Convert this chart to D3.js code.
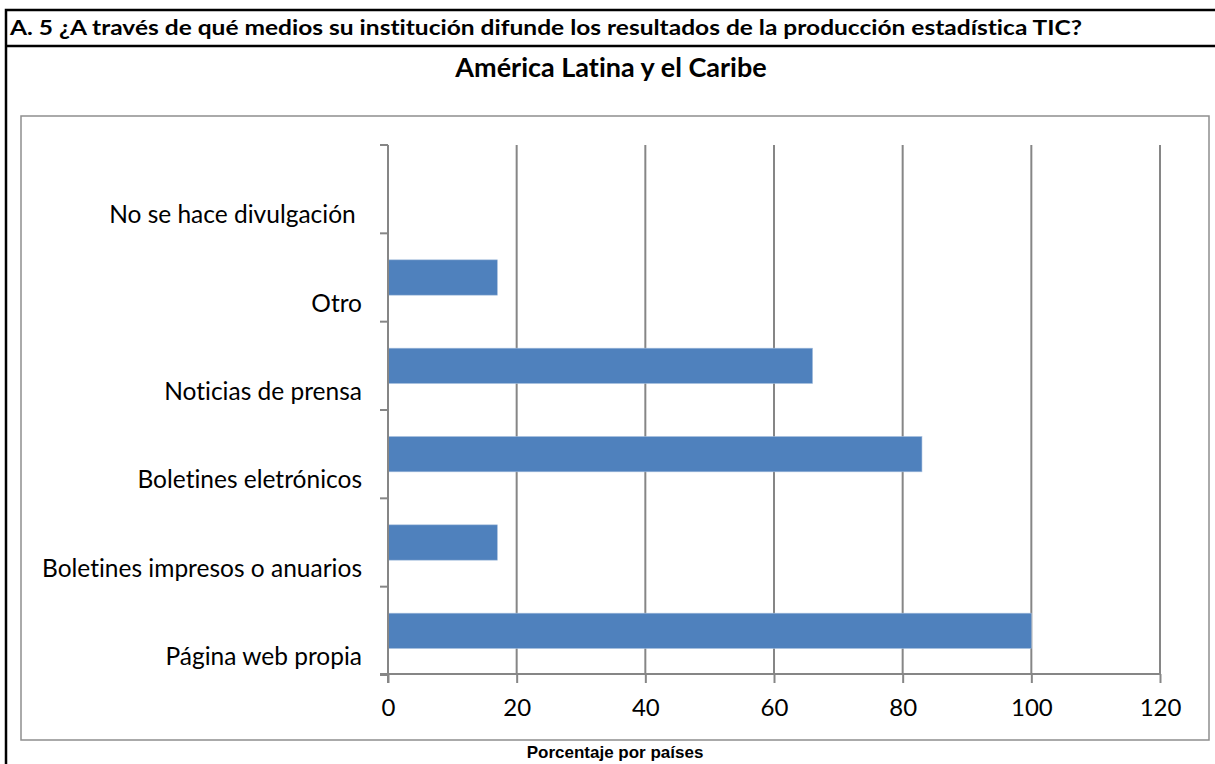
<!DOCTYPE html>
<html>
<head>
<meta charset="utf-8">
<script src="https://cdn.jsdelivr.net/npm/d3@7"></script>
<style>
  body { margin: 0; background: #fff; }
  svg text { white-space: pre; font-variant-ligatures: none; }
</style>
</head>
<body>
<div id="chart"></div>
<script>
// data, top to bottom
var categories = ["No se hace divulgación ", "Otro", "Noticias de prensa", "Boletines eletrónicos", "Boletines impresos o anuarios", "Página web propia"]
var values = [0, 17, 66, 83, 17, 100]
var xTicks = [0, 20, 40, 60, 80, 100, 120]

var w = 1215
var h = 764

function init() {
    var svg = d3.select("#chart")
                .append("svg")
                .attr("width", w)
                .attr("height", h)

    // outer black frame and header
    svg.append("rect")
        .attr("x", 6).attr("y", 10)
        .attr("width", w + 20).attr("height", h + 20)
        .attr("fill", "none").attr("stroke", "#000").attr("stroke-width", 2.5)
    svg.append("line")
        .attr("x1", 6).attr("x2", w)
        .attr("y1", 46).attr("y2", 46)
        .attr("stroke", "#000").attr("stroke-width", 2.5)
    svg.append("text")
        .text("A. 5 ¿A través de qué medios su institución difunde los resultados de la producción estadística TIC?")
        .attr("x", 10).attr("y", 35)
        .attr("textLength", 1072).attr("lengthAdjust", "spacingAndGlyphs")
        .style("font-family", "Lato").style("font-weight", "bold").style("font-size", "21px")

    // chart area box
    svg.append("rect")
        .attr("x", 21).attr("y", 116)
        .attr("width", 1188).attr("height", 624)
        .attr("fill", "#fff").attr("stroke", "#8e8e8e").attr("stroke-width", 1.5)

    svg.append("text")
        .text("América Latina y el Caribe")
        .attr("x", 611).attr("y", 77)
        .attr("text-anchor", "middle")
        .style("font-family", "Lato").style("font-weight", "bold").style("font-size", "27px")

    var x = d3.scaleLinear().domain([0, 120]).range([388, 1160])
    var y = d3.scaleBand().domain(categories).range([145, 675])
              .paddingInner(0.6).paddingOuter(0.3)
    var step = y.step()

    // vertical gridlines
    svg.selectAll(".grid")
        .data(xTicks.slice(1))
        .enter()
        .append("line")
        .attr("x1", d => x(d)).attr("x2", d => x(d))
        .attr("y1", 145).attr("y2", 674)
        .attr("stroke", "#868686").attr("stroke-width", 2)

    // bars
    svg.selectAll(".bar")
        .data(values)
        .enter()
        .append("rect")
        .attr("x", x(0))
        .attr("y", (d, i) => y(categories[i]))
        .attr("width", d => x(d) - x(0))
        .attr("height", y.bandwidth())
        .attr("fill", "#4f81bd")
        .attr("stroke", "#a9c0de").attr("stroke-width", 0.6)

    // x axis
    var xAxis = svg.append("g")
        .attr("transform", "translate(0,674)")
        .call(d3.axisBottom(x).tickValues(xTicks).tickSize(9).tickPadding(16))
    xAxis.select(".domain").remove()
    xAxis.selectAll(".tick line").attr("stroke", "#868686").attr("stroke-width", 2)
    xAxis.selectAll("text")
        .attr("fill", "#000")
        .style("font-family", "Lato").style("font-size", "24px")
    svg.append("line")
        .attr("x1", 380).attr("x2", 1161)
        .attr("y1", 674).attr("y2", 674)
        .attr("stroke", "#868686").attr("stroke-width", 2)

    // y axis with ticks between categories
    svg.append("line")
        .attr("x1", 388).attr("x2", 388)
        .attr("y1", 145).attr("y2", 683)
        .attr("stroke", "#868686").attr("stroke-width", 2)
    var bounds = categories.map(c => y(c) - step * 0.3).concat([675])
    svg.selectAll(".ytick")
        .data(bounds)
        .enter()
        .append("line")
        .attr("x1", 380).attr("x2", 388)
        .attr("y1", d => d).attr("y2", d => d)
        .attr("stroke", "#868686").attr("stroke-width", 2)

    svg.selectAll(".ylabel")
        .data(categories)
        .enter()
        .append("text")
        .text(d => d)
        .attr("x", 362)
        .attr("y", d => y(d) + y.bandwidth() / 2 + 34)
        .attr("text-anchor", "end")
        .style("font-family", "Lato").style("font-size", "24.5px")

    svg.append("text")
        .text("Porcentaje por países")
        .attr("x", 615).attr("y", 758)
        .attr("text-anchor", "middle")
        .style("font-family", "Liberation Sans").style("font-weight", "bold").style("font-size", "17px")
}

window.onload = init
</script>
</body>
</html>
